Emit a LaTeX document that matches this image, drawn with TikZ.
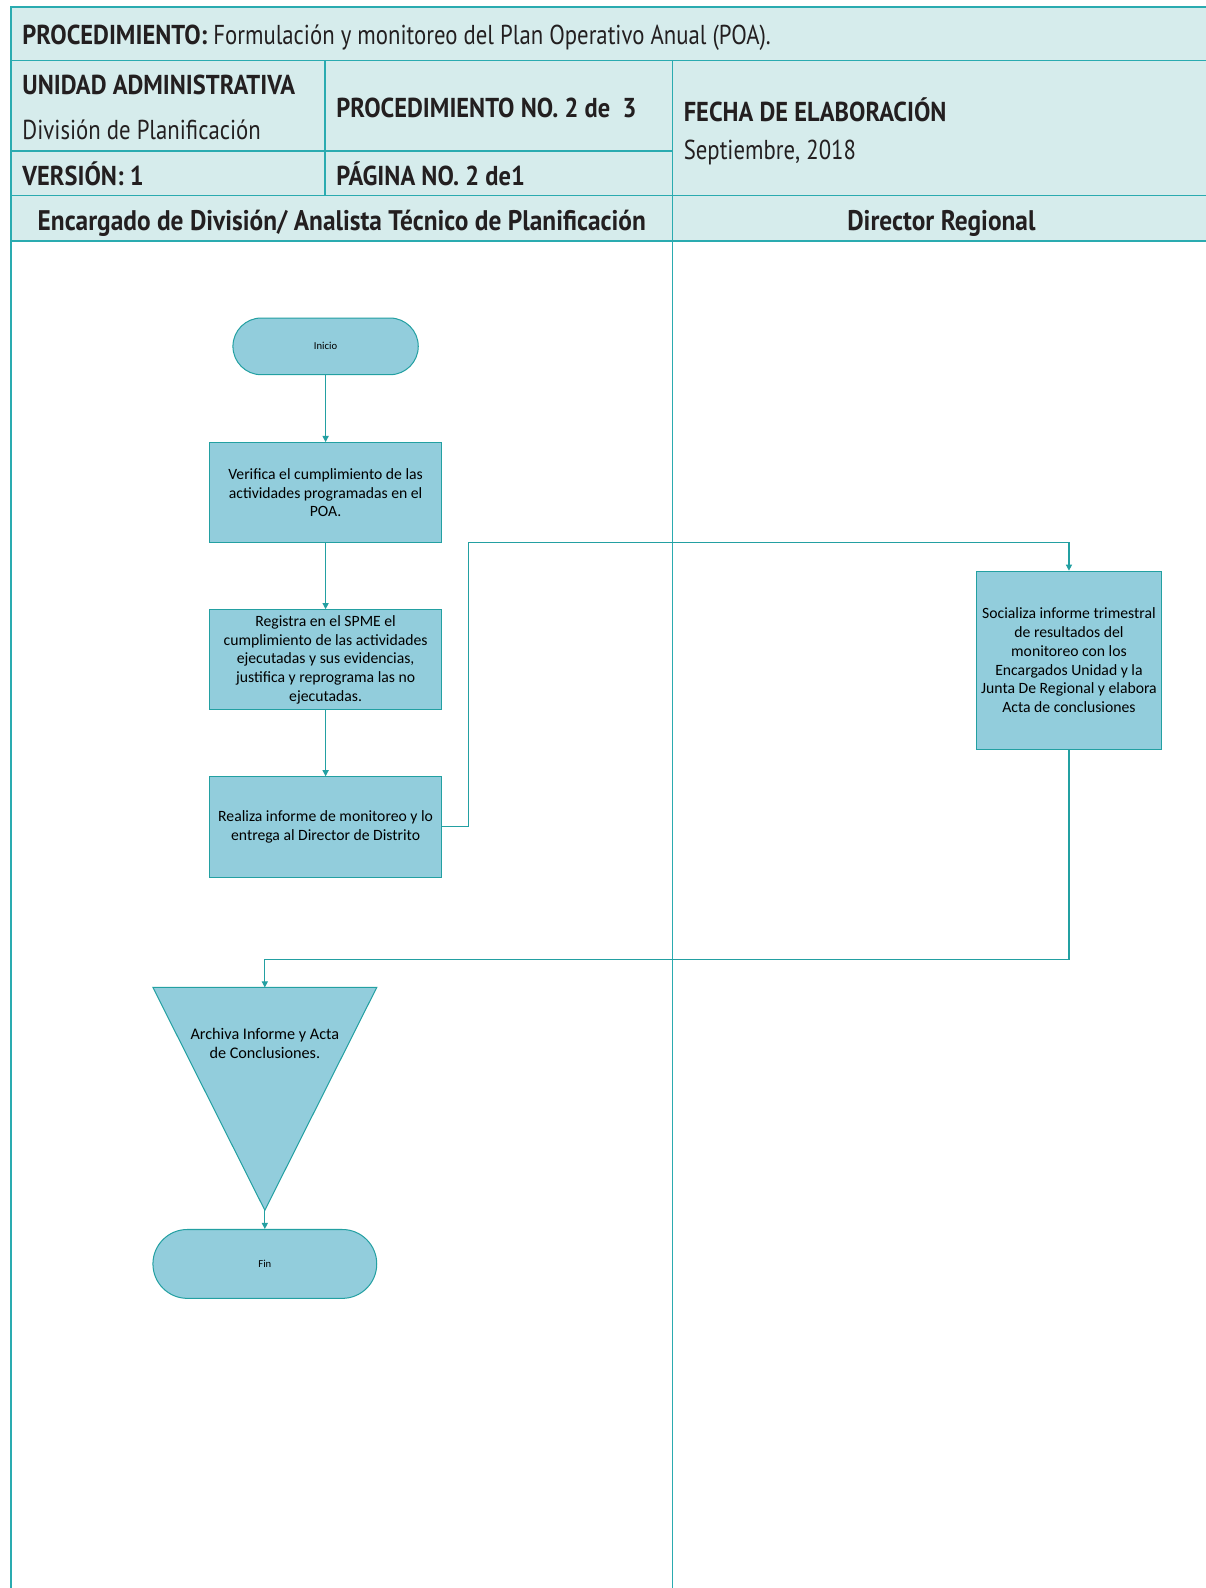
\documentclass[tikz,border=0pt]{standalone}
\usepackage{fontspec}
\usetikzlibrary{arrows.meta}
\newfontfamily\hdrfont[FakeStretch=0.832, BoldFeatures={FakeStretch=0.894}]{PT Sans}
\newfontfamily\boxfont{Carlito}
\definecolor{hdrfill}{HTML}{D6ECEC}
\definecolor{gridline}{HTML}{2AABB0}
\definecolor{stepfill}{HTML}{92CDDC}
\definecolor{stepline}{HTML}{23A0A2}
\definecolor{hdrtext}{HTML}{231F20}
\tikzset{
  grid/.style={draw=gridline, line width=1.4pt},
  hdrtxt/.style={inner sep=0pt, text=hdrtext, font={\hdrfont\fontsize{27}{31}\selectfont}},
  lanetxt/.style={inner sep=0pt, text=hdrtext, font={\hdrfont\bfseries\fontsize{28}{32}\selectfont}},
  stepbox/.style={draw=stepline, fill=stepfill, line width=1pt, inner sep=0pt, align=center,
    font={\boxfont\fontsize{15.5}{18.6}\selectfont}},
  term/.style={stepbox, font={\boxfont\fontsize{10.5}{12}\selectfont}},
  flow/.style={draw=stepline, line width=1.1pt, -{Triangle[length=6pt,width=6pt]}},
}
\begin{document}
\begin{tikzpicture}[x=1pt,y=-1pt]
\useasboundingbox (0,0) rectangle (1190,1568);
\fill[white] (0,0) rectangle (1190,1568);
% header block
\fill[hdrfill] (11,7) rectangle (1192,238);
\draw[grid] (1192,7) -- (11,7) -- (11,1570);
\draw[grid] (11,60) -- (1192,60);
\draw[grid] (11,149) -- (664,149);
\draw[grid] (11,193) -- (1192,193);
\draw[grid] (11,238) -- (1192,238);
\draw[grid] (321,60) -- (321,193);
\draw[grid] (664,60) -- (664,1570);
% header texts
\node[hdrtxt, anchor=base west] (title) at (22,44) {\bfseries PROCEDIMIENTO:\ \mdseries Formulación y monitoreo del Plan Operativo Anual (POA).};
\node[hdrtxt, anchor=base west] (unidad) at (22,93) {\bfseries UNIDAD ADMINISTRATIVA};
\node[hdrtxt, anchor=base west] (division) at (22,138) {División de Planificación};
\node[hdrtxt, anchor=base west] (procno) at (332,116) {\bfseries PROCEDIMIENTO NO. 2 de\ \ 3};
\node[hdrtxt, anchor=base west] (fecha) at (675,120) {\bfseries FECHA DE ELABORACIÓN};
\node[hdrtxt, anchor=base west] (fechaval) at (675,157) {Septiembre, 2018};
\node[hdrtxt, anchor=base west] (version) at (22,183) {\bfseries VERSIÓN: 1};
\node[hdrtxt, anchor=base west] (pagina) at (332,183) {\bfseries PÁGINA NO. 2 de1};
\node[lanetxt, anchor=base] (laneA) at (337.5,228) {Encargado de División/ Analista Técnico de Planificación};
\node[lanetxt, anchor=base] (laneB) at (929.5,228) {Director Regional};
% flow steps
\node[term, minimum width=183, minimum height=56, rounded corners=28] (inicio) at (321.5,342) {Inicio};
\node[stepbox, minimum width=229, minimum height=99] (verif) at (321.5,486.5)
  {Verifica el cumplimiento de las\\actividades programadas en el\\POA.};
\node[stepbox, minimum width=229, minimum height=99] (registra) at (321.5,651.5)
  {Registra en el SPME el\\cumplimiento de las actividades\\ejecutadas y sus evidencias,\\justifica y reprograma las no\\ejecutadas.};
\node[stepbox, minimum width=229, minimum height=99] (realiza) at (321.5,816.5)
  {Realiza informe de monitoreo y lo\\entrega al Director de Distrito};
\node[stepbox, minimum width=183, minimum height=176] (socializa) at (1055.5,652)
  {Socializa informe trimestral\\de resultados del\\monitoreo con los\\Encargados Unidad y la\\Junta De Regional y elabora\\Acta de conclusiones};
% archive triangle
\path[draw=stepline, fill=stepfill, line width=1pt] (151,975) -- (372,975) -- (261.5,1195) -- cycle;
\coordinate (archtop) at (261.5,975);
\coordinate (archtip) at (261.5,1195);
\node[stepbox, draw=none, fill=none, font={\boxfont\fontsize{16}{19}\selectfont}] (archiva) at (261.5,1030.5) {Archiva Informe y Acta\\de Conclusiones.};
\node[term, minimum width=221, minimum height=68, rounded corners=34] (fin) at (261.5,1248) {Fin};
% connectors
\coordinate (up1) at (463,536);
\coordinate (down1) at (261.5,947);
\draw[flow] (inicio) -- (verif);
\draw[flow] (verif) -- (registra);
\draw[flow] (registra) -- (realiza);
\draw[flow] (realiza.east) -| (up1) -| (socializa.north);
\draw[flow] (socializa.south) |- (down1) -- (archtop);
\draw[flow] (archtip) -- (fin.north);
\end{tikzpicture}
\end{document}
